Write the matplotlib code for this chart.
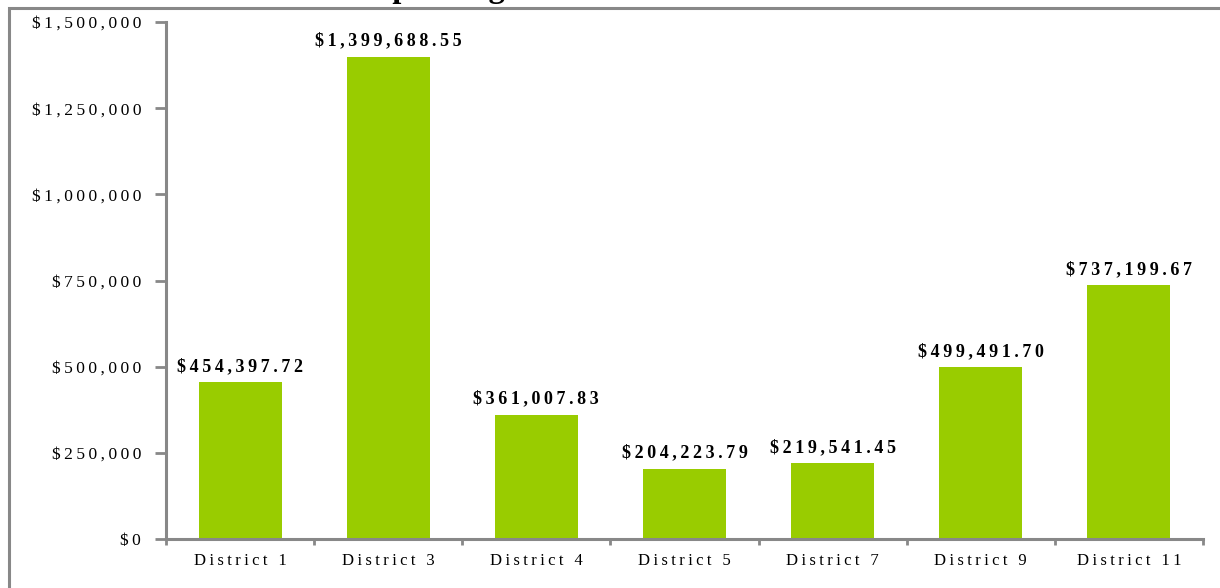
import matplotlib
matplotlib.use('Agg')
import matplotlib.pyplot as plt
from matplotlib.patches import Rectangle
from matplotlib.ticker import FuncFormatter, FixedLocator

districts = ['District 1', 'District 3', 'District 4', 'District 5',
             'District 7', 'District 9', 'District 11']
spending = [454397.72, 1399688.55, 361007.83, 204223.79,
            219541.45, 499491.70, 737199.67]
title = 'Total Spending Per District'

W, H = 1220, 588
fig = plt.figure(figsize=(W / 100, H / 100), dpi=100)
plt.rcParams['font.family'] = ['Liberation Serif', 'DejaVu Serif']


def spaced(s):
    # the original renders text with wide letter spacing
    return '\u2009'.join(s)


# outer frame (runs off the right and bottom)
fig.patches.append(Rectangle((9 / W, -0.05), 1.2, 1 - 8 / H + 0.05,
                             transform=fig.transFigure, fill=False,
                             edgecolor='#888888', linewidth=2.2))

# title sits mostly above the picture, only descenders show
fig.text(295 / W, 1 + 3 / H, title, fontsize=23.5, fontweight='bold',
         ha='left', va='baseline', color='black')

ax = fig.add_axes([166 / W, (H - 539) / H, (1203 - 166) / W, (539 - 22) / H])
x = range(len(districts))
ax.bar(x, spending, width=0.56, color='#99CC00')
ax.set_xlim(-0.5, len(districts) - 0.5)
ax.set_ylim(0, 1500000)
ax.set_yticks(range(0, 1500001, 250000))
ax.yaxis.set_major_formatter(FuncFormatter(lambda v, p: spaced('${:,.0f}'.format(v))))
ax.set_xticks(list(x))
ax.set_xticklabels([spaced(d) for d in districts])
ax.xaxis.set_minor_locator(FixedLocator([i - 0.5 for i in range(len(districts) + 1)]))
ax.tick_params(axis='x', which='major', length=0, pad=10, labelsize=12)
ax.tick_params(axis='x', which='minor', length=4, width=2, color='#888888')
ax.tick_params(axis='y', length=8, width=2, color='#888888', pad=10, labelsize=12.5)

for s in ['top', 'right']:
    ax.spines[s].set_visible(False)
for s in ['left', 'bottom']:
    ax.spines[s].set_color('#888888')
    ax.spines[s].set_linewidth(2.2)

for i, v in enumerate(spending):
    ax.annotate(spaced('${:,.2f}'.format(v)), (i, v), xytext=(0, 5),
                textcoords='offset points', ha='center', va='bottom',
                fontsize=13, fontweight='bold')

fig.savefig('out.png', dpi=100)
